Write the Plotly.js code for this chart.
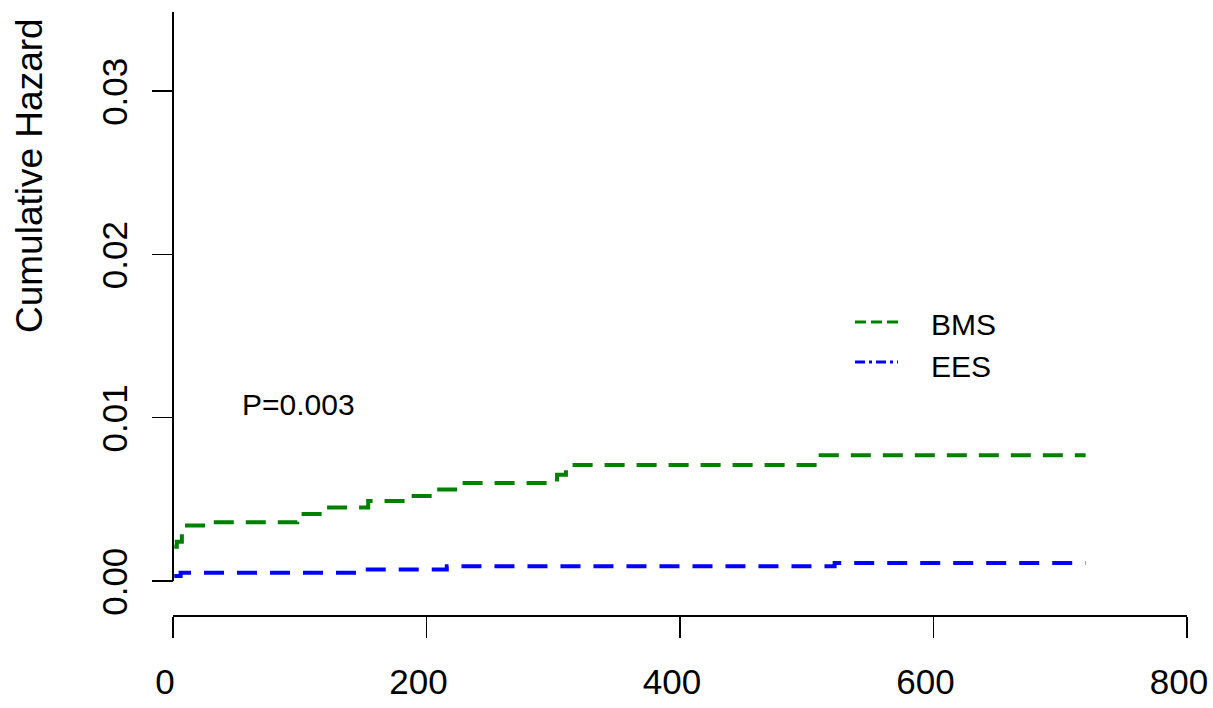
<!DOCTYPE html>
<html>
<head>
<meta charset="utf-8">
<script src="https://cdn.plot.ly/plotly-3.0.1.min.js"></script>
<style>html,body{margin:0;padding:0;background:#fff;}#chart{width:1213px;height:708px;}</style>
</head>
<body>
<div id="chart"></div>
<script>
// Data
const bmsTime = [1, 3, 7, 9, 30, 98, 118, 154, 185, 210, 227, 303, 310, 511, 720];
const bmsHaz  = [0.0021, 0.0024, 0.0029, 0.0034, 0.0036, 0.0041, 0.0045, 0.0049, 0.0052, 0.0056, 0.0060, 0.0065, 0.0071, 0.0077, 0.0077];
const eesTime = [1, 6, 145, 216, 522, 720];
const eesHaz  = [0.0003, 0.0005, 0.0007, 0.0009, 0.0011, 0.0011];
const seriesNames = ["BMS", "EES"];
const xTicks = [0, 200, 400, 600, 800];
const xTickText = ["0", "200", "400", "600", "800"];
const yTicks = [0, 0.01, 0.02, 0.03];
const yTickText = ["0.00", "0.01", "0.02", "0.03"];
const pText = "P=0.003";

const FONT = "Liberation Sans, Arial, Helvetica, sans-serif";
const GREEN = "#008000", BLUE = "#0000FF";

const W = 1213, H = 708, L = 160, R = 26, T = 12, B = 92;
const AX = 173;                        // page x of the y axis (time 0)
const pw = W - L - R, ph = H - T - B;
const px = v => (v - L) / pw;          // page x -> paper
const py = v => (H - B - v) / ph;      // page y -> paper

const kx = (1187 - AX) / 800;          // px per day
const xRange = [-(AX - L) / kx, 800];
const yRange = [-0.002143, 0.03484];
// tick labels sit slightly left of / below their ticks in the reference
const xOff = 8 / kx;
const yOff = 6 * (yRange[1] - yRange[0]) / ph;

const traces = [
  {x: bmsTime, y: bmsHaz, name: seriesNames[0], type: "scatter", mode: "lines",
   line: {shape: "hv", color: GREEN, width: 4, dash: "20px,12px"}, showlegend: false, hoverinfo: "skip"},
  {x: eesTime, y: eesHaz, name: seriesNames[1], type: "scatter", mode: "lines",
   line: {shape: "hv", color: BLUE, width: 4, dash: "20px,13px"}, showlegend: false, hoverinfo: "skip"},
  {x: [null], y: [null], xaxis: "x2", yaxis: "y2", type: "scatter", mode: "lines",
   showlegend: false, hoverinfo: "skip"}
];

const tickFont = {size: 35, family: FONT, color: "#000"};

const layout = {
  width: W, height: H,
  margin: {l: L, r: R, t: T, b: B, pad: 0},
  paper_bgcolor: "#fff", plot_bgcolor: "#fff",
  font: {family: FONT, color: "#000"},
  showlegend: false,
  xaxis: {
    range: xRange, tickvals: xTicks, showticklabels: false,
    showgrid: false, zeroline: false, showline: false,
    ticks: "outside", ticklen: 21, tickwidth: 1.5, tickcolor: "#000"
  },
  yaxis: {
    anchor: "free", position: px(AX),
    range: yRange, tickvals: yTicks, showticklabels: false,
    showgrid: false, zeroline: false, showline: false,
    ticks: "outside", ticklen: 21, tickwidth: 1.5, tickcolor: "#000"
  },
  xaxis2: {
    overlaying: "x", anchor: "y", side: "bottom",
    range: [xRange[0] + xOff, xRange[1] + xOff], tickvals: xTicks, ticktext: xTickText,
    showgrid: false, zeroline: false, showline: false, ticks: "",
    tickfont: tickFont, ticklabelstandoff: 42, ticklabeloverflow: "allow"
  },
  yaxis2: {
    overlaying: "y", anchor: "free", position: px(AX), side: "left",
    range: [yRange[0] + yOff, yRange[1] + yOff], tickvals: yTicks, ticktext: yTickText,
    showgrid: false, zeroline: false, showline: false, ticks: "", tickangle: -90,
    tickfont: tickFont, ticklabelstandoff: 39, ticklabeloverflow: "allow"
  },
  shapes: [
    {type: "line", xref: "x", yref: "y", x0: 0, x1: 0, y0: 0, y1: yRange[1],
     line: {color: "#000", width: 2}},
    {type: "line", xref: "x", yref: "paper", x0: 0, x1: 800, y0: 0, y1: 0,
     line: {color: "#000", width: 2}},
    {type: "line", xref: "paper", yref: "paper", x0: px(855), x1: px(898), y0: py(322), y1: py(322),
     line: {color: GREEN, width: 3, dash: "11px,5px"}},
    {type: "line", xref: "paper", yref: "paper", x0: px(855), x1: px(898), y0: py(362), y1: py(362),
     line: {color: BLUE, width: 3, dash: "10px,4px,3px,4px"}}
  ],
  annotations: [
    {text: "Cumulative Hazard", xref: "paper", yref: "paper", x: px(29), y: py(176),
     xanchor: "center", yanchor: "middle", textangle: -90, showarrow: false,
     font: {size: 37, family: FONT, color: "#000"}},
    {text: pText, xref: "x", yref: "y", x: 99, y: 0.0108, xanchor: "center", yanchor: "middle",
     showarrow: false, font: {size: 30, family: FONT, color: "#000"}},
    {text: seriesNames[0], xref: "paper", yref: "paper", x: px(929), y: py(324),
     xanchor: "left", yanchor: "middle", showarrow: false, font: {size: 30, family: FONT, color: "#000"}},
    {text: seriesNames[1], xref: "paper", yref: "paper", x: px(929), y: py(366),
     xanchor: "left", yanchor: "middle", showarrow: false, font: {size: 30, family: FONT, color: "#000"}}
  ]
};

Plotly.newPlot("chart", traces, layout, {displayModeBar: false, staticPlot: true});
</script>
</body>
</html>
